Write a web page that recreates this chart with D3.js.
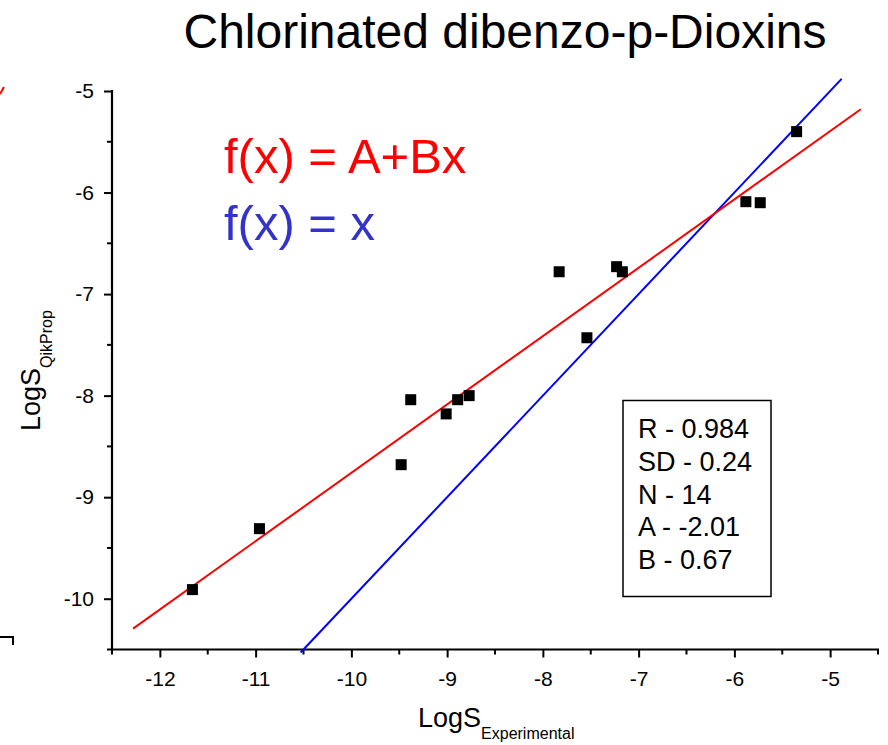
<!DOCTYPE html>
<html>
<head>
<meta charset="utf-8">
<script src="https://cdn.jsdelivr.net/npm/d3@7"></script>
<style>
  html, body { margin: 0; padding: 0; background: #fff; }
  svg { display: block; font-family: "Liberation Sans", Arial, sans-serif; }
</style>
</head>
<body>
<svg id="chart" width="888" height="745"></svg>
<script>
// ---------- data ----------
const logSExperimental = [-11.66, -10.96, -9.48, -9.38, -9.01, -8.89, -8.77, -7.83, -7.54, -7.23, -7.17, -5.88, -5.73, -5.35];
const logSQikProp      = [-9.91, -9.31, -8.68, -8.04, -8.18, -8.04, -8.00, -6.78, -7.43, -6.73, -6.78, -6.09, -6.10, -5.40];
const fitRangeX = [-12.28, -4.68];       // red regression line extent
const fitA = -2.03, fitB = 0.673;        // line as drawn
const identityRangeX = [-10.53, -4.88];  // blue y = x line extent
const xMajorTicks = [-12, -11, -10, -9, -8, -7, -6, -5];
const xMinorTicks = [-12.5, -11.5, -10.5, -9.5, -8.5, -7.5, -6.5, -5.5, -4.5];
const yMajorTicks = [-5, -6, -7, -8, -9, -10];
const yMinorTicks = [-5.5, -6.5, -7.5, -8.5, -9.5, -10.5];
const statsLines = ["R - 0.984", "SD - 0.24", "N - 14", "A - -2.01", "B - 0.67"];
const titleText = "Chlorinated dibenzo-p-Dioxins";

// ---------- layout ----------
const svg = d3.select("#chart");
const x = d3.scaleLinear().domain([-12.5, -4.5]).range([112, 878]);
const y = d3.scaleLinear().domain([-10.5, -5]).range([649.5, 91]);
const x0 = x.range()[0], y0 = y.range()[0];
const hyphenFmt = d => String(d);

// edge fragments from neighbouring panel
svg.append("path").attr("d", "M0,94 L4,87").attr("stroke", "#ff0000").attr("stroke-width", 2).attr("fill", "none");
svg.append("path").attr("d", "M0,637 H13 V645").attr("stroke", "#000").attr("stroke-width", 2).attr("fill", "none");

// title
svg.append("text").attr("x", 505).attr("y", 48).attr("text-anchor", "middle")
  .attr("font-size", 48).attr("fill", "#000").text(titleText);

// axes
const xAxisG = svg.append("g").attr("transform", `translate(0,${y0})`);
xAxisG.call(d3.axisBottom(x).tickValues(xMajorTicks).tickSize(8).tickSizeOuter(0).tickPadding(14).tickFormat(hyphenFmt));
xAxisG.select(".domain").remove();
xAxisG.selectAll(".tick line").attr("stroke-width", 2);
xAxisG.selectAll(".tick text").attr("font-size", 21).attr("font-family", "Liberation Sans, Arial, sans-serif");
xAxisG.selectAll(".minor").data(xMinorTicks).enter().append("line")
  .attr("x1", d => x(d)).attr("x2", d => x(d)).attr("y1", 0).attr("y2", 5)
  .attr("stroke", "#000").attr("stroke-width", 2);
xAxisG.append("line").attr("x1", x0 - 1).attr("x2", x.range()[1] + 1).attr("y1", 0).attr("y2", 0)
  .attr("stroke", "#000").attr("stroke-width", 2.2);

const yAxisG = svg.append("g").attr("transform", `translate(${x0},0)`);
yAxisG.call(d3.axisLeft(y).tickValues(yMajorTicks).tickSize(8).tickSizeOuter(0).tickPadding(10).tickFormat(hyphenFmt));
yAxisG.select(".domain").remove();
yAxisG.selectAll(".tick line").attr("stroke-width", 2);
yAxisG.selectAll(".tick text").attr("font-size", 21).attr("font-family", "Liberation Sans, Arial, sans-serif");
yAxisG.selectAll(".minor").data(yMinorTicks).enter().append("line")
  .attr("x1", -5).attr("x2", 0).attr("y1", d => y(d)).attr("y2", d => y(d))
  .attr("stroke", "#000").attr("stroke-width", 2);
yAxisG.append("line").attr("x1", 0).attr("x2", 0).attr("y1", y.range()[1] - 1).attr("y2", y0 + 1)
  .attr("stroke", "#000").attr("stroke-width", 2.2);

// axis titles
const xt = svg.append("text").attr("x", 418).attr("y", 727).attr("font-size", 27).attr("fill", "#000");
xt.append("tspan").text("LogS");
xt.append("tspan").attr("font-size", 16).attr("dy", 12).text("Experimental");

const yt = svg.append("text").attr("transform", "translate(40,431) rotate(-90)").attr("font-size", 27).attr("fill", "#000");
yt.append("tspan").text("LogS");
yt.append("tspan").attr("font-size", 16).attr("dy", 12).text("QikProp");

// lines
const line = d3.line().x(d => x(d[0])).y(d => y(d[1]));
svg.append("path").datum(identityRangeX.map(v => [v, v]))
  .attr("d", line).attr("stroke", "#0000ff").attr("stroke-width", 2).attr("fill", "none");
svg.append("path").datum(fitRangeX.map(v => [v, fitA + fitB * v]))
  .attr("d", line).attr("stroke", "#ff0000").attr("stroke-width", 2).attr("fill", "none");

// points
const s = 11;
svg.append("g").selectAll("rect").data(logSExperimental.map((v, i) => [v, logSQikProp[i]])).enter().append("rect")
  .attr("x", d => x(d[0]) - s / 2).attr("y", d => y(d[1]) - s / 2)
  .attr("width", s).attr("height", s).attr("fill", "#000");

// legend formulas
svg.append("text").attr("x", 224).attr("y", 173).attr("font-size", 49).attr("fill", "#ff0000").text("f(x) = A+Bx");
svg.append("text").attr("x", 224).attr("y", 240).attr("font-size", 49).attr("fill", "#3333cc").text("f(x) = x");

// stats box
svg.append("rect").attr("x", 623).attr("y", 400.5).attr("width", 148).attr("height", 196)
  .attr("fill", "none").attr("stroke", "#000").attr("stroke-width", 1.5);
svg.append("g").selectAll("text").data(statsLines).enter().append("text")
  .attr("x", 638).attr("y", (d, i) => 438 + i * 32.8).attr("font-size", 27).attr("fill", "#000").text(d => d);
</script>
</body>
</html>
